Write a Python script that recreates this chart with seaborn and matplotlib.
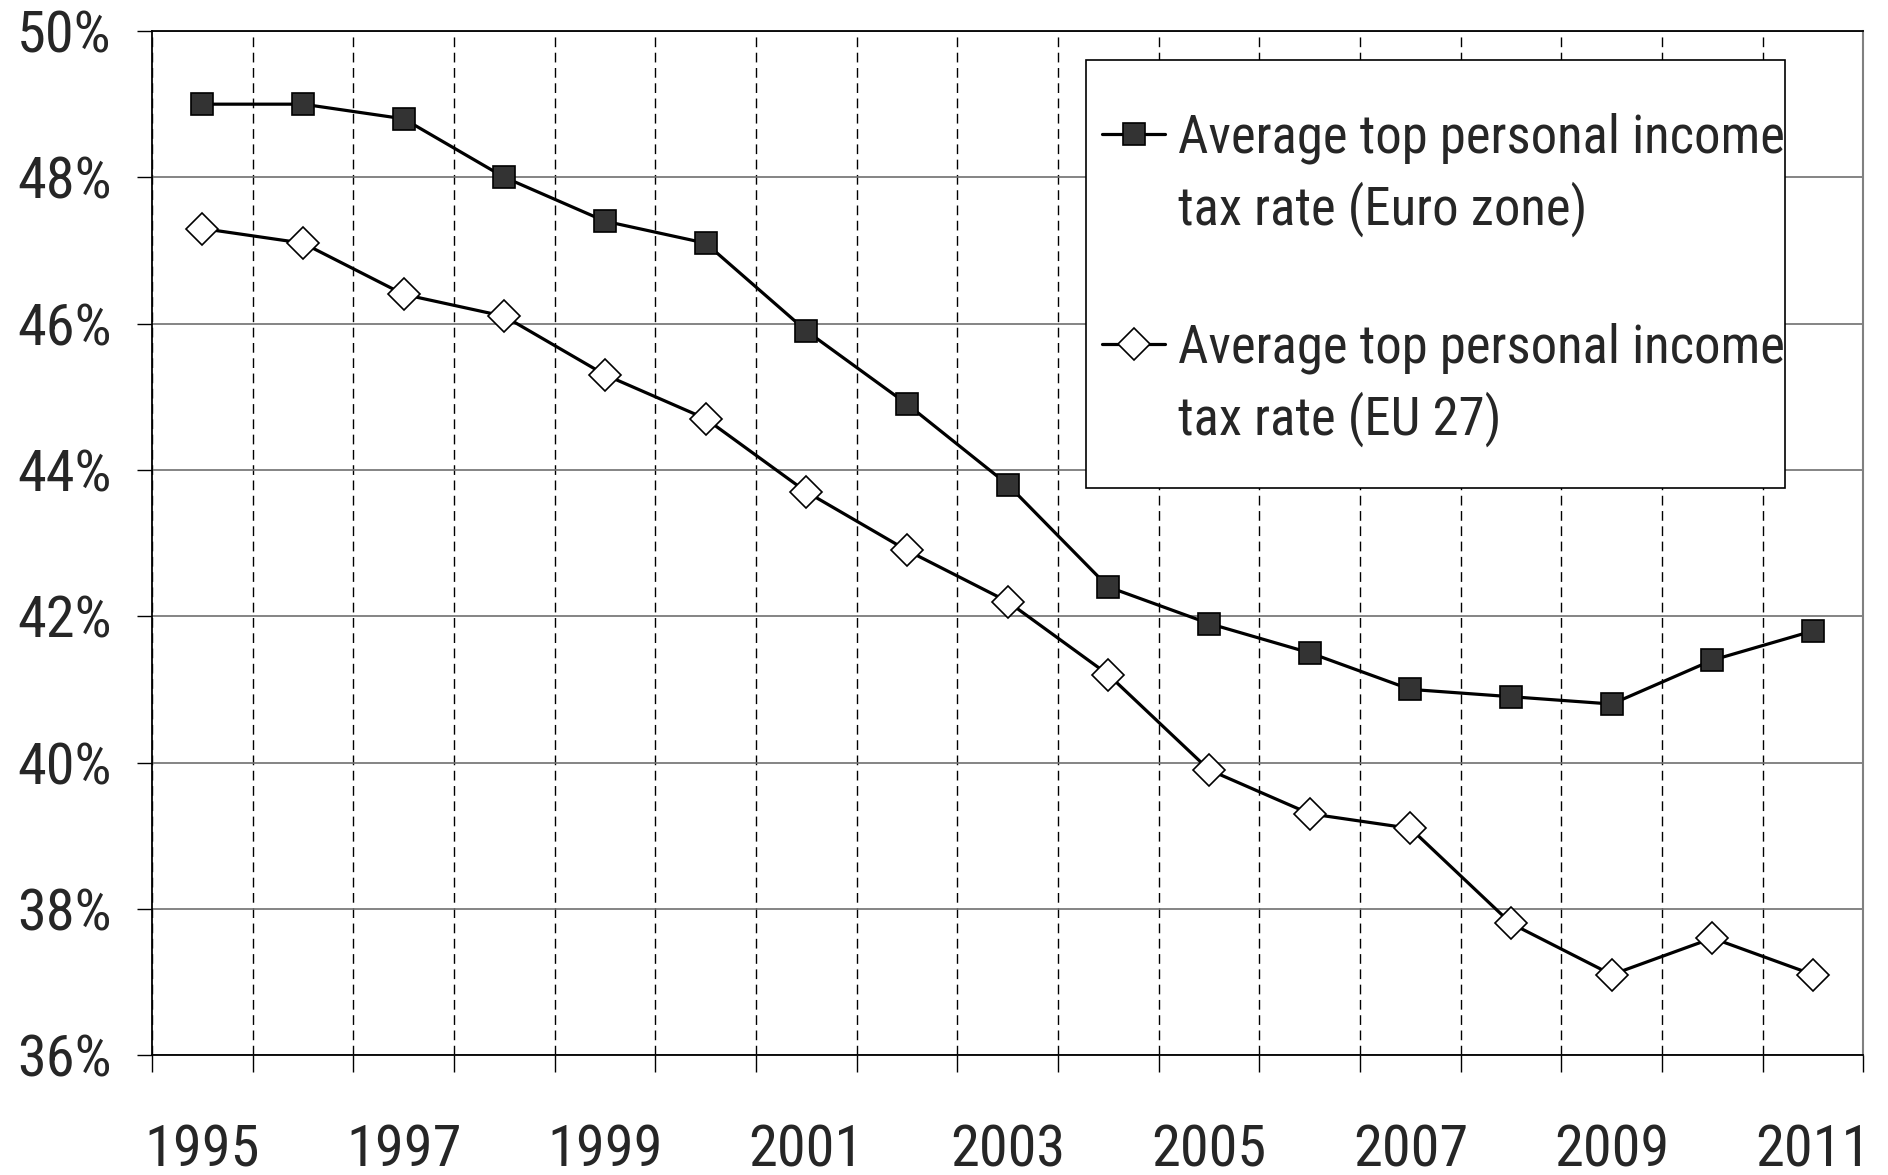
import numpy as np
import pandas as pd
import seaborn as sns
import matplotlib.pyplot as plt
from matplotlib.lines import Line2D
from matplotlib.patches import Rectangle
from matplotlib.ticker import FixedLocator, PercentFormatter

years = list(range(1995, 2012))
euro_zone = [49.0, 49.0, 48.8, 48.0, 47.4, 47.1, 45.9, 44.9, 43.8, 42.4, 41.9, 41.5, 41.0, 40.9, 40.8, 41.4, 41.8]
eu27 = [47.3, 47.1, 46.4, 46.1, 45.3, 44.7, 43.7, 42.9, 42.2, 41.2, 39.9, 39.3, 39.1, 37.8, 37.1, 37.6, 37.1]
label_top = "Average top personal income"
label_euro = "tax rate (Euro zone)"
label_eu27 = "tax rate (EU 27)"

df = pd.DataFrame({"pos": np.arange(len(years)), "year": years,
                   "euro": euro_zone, "eu27": eu27})

sns.set_style("white")
plt.rcParams['font.family'] = ['Roboto Condensed', 'Archivo Narrow', 'Liberation Sans', 'DejaVu Sans']

fig = plt.figure(figsize=(18.88, 11.75), dpi=100)
ax = fig.add_axes([0.0805, 0.102, 0.9065, 0.8716])

sq_style = dict(marker="s", markersize=16, markerfacecolor="#333333",
                markeredgecolor="black", markeredgewidth=1.2)
di_style = dict(marker="D", markersize=16, markerfacecolor="white",
                markeredgecolor="black", markeredgewidth=1.2)

sns.lineplot(data=df, x="pos", y="euro", ax=ax, color="black", linewidth=2.3, zorder=3, **sq_style)
sns.lineplot(data=df, x="pos", y="eu27", ax=ax, color="black", linewidth=2.3, zorder=3, **di_style)

n = len(years)
ax.set_xlim(-0.5, n - 0.5)
ax.set_ylim(36, 50)
ax.set_xlabel("")
ax.set_ylabel("")

# year labels on every other category, tick marks on the boundaries
ax.set_xticks(np.arange(0, n, 2))
ax.set_xticklabels([str(y) for y in years[::2]])
ax.xaxis.set_minor_locator(FixedLocator(np.arange(n + 1) - 0.5))
ax.tick_params(axis="x", which="major", length=0, pad=49, labelsize=42)
ax.tick_params(axis="x", which="minor", length=12, width=1, color="black", bottom=True)

ax.set_yticks(np.arange(36, 51, 2))
ax.yaxis.set_major_formatter(PercentFormatter(decimals=0))
ax.tick_params(axis="y", which="major", length=11, width=1, color="black", pad=18, labelsize=42, left=True)

ax.grid(which="major", axis="y", color="#707070", linewidth=1.2, linestyle="-")
ax.grid(which="minor", axis="x", color="black", linewidth=1.0, linestyle=(0, (7, 4)))
ax.grid(which="major", axis="x", visible=False)
ax.set_axisbelow(True)

for side in ["left", "bottom", "top"]:
    ax.spines[side].set_color("black")
    ax.spines[side].set_linewidth(1.3)
ax.spines["right"].set_color("#808080")
ax.spines["right"].set_linewidth(1.5)

# legend box
ax.add_patch(Rectangle((0.546, 0.554), 0.408, 0.418, transform=ax.transAxes,
                       facecolor="white", edgecolor="black", linewidth=1.2, zorder=4))
h_euro = Line2D([], [], color="black", linewidth=2.3, **sq_style)
h_eu27 = Line2D([], [], color="black", linewidth=2.3, **di_style)
blank = Line2D([], [], linestyle="none")
leg = ax.legend([h_euro, blank, blank, h_eu27, blank],
                [label_top, label_euro, " ", label_top, label_eu27],
                loc="center left", bbox_to_anchor=(0.555, 0.757), frameon=False,
                fontsize=38, handlelength=1.2, handletextpad=0.25,
                labelspacing=0.33, borderpad=0, borderaxespad=0)
leg.set_zorder(5)

fig.savefig("out.png", dpi=100)
